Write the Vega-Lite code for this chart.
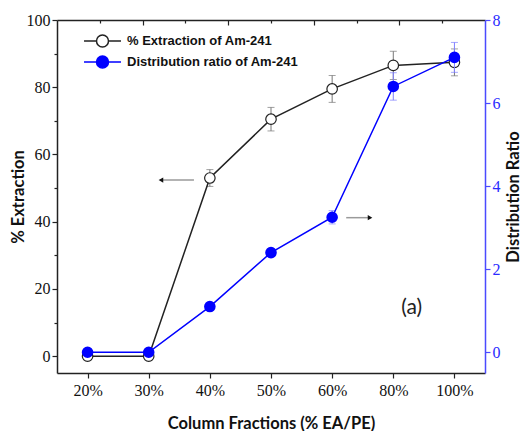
{
  "$schema": "https://vega.github.io/schema/vega-lite/v6.json",
  "width": 428,
  "height": 353,
  "autosize": "none",
  "padding": {"left": 57, "top": 20, "right": 40, "bottom": 58},
  "background": "white",
  "config": {
    "view": {"stroke": null},
    "axis": {
      "grid": false,
      "labelFont": "Liberation Serif",
      "labelFontSize": 16,
      "labelColor": "#111111",
      "titleFont": "Lato",
      "titleFontWeight": "bold",
      "titleFontSize": 16.5,
      "titleColor": "#111111",
      "domainColor": "#222222",
      "tickColor": "#222222",
      "domainWidth": 1.5,
      "tickWidth": 1.2
    }
  },
  "datasets": {
    "main": [
      {"idx": 0, "fraction": "20%", "extraction": 0, "extraction_err": 0, "ratio": 0, "ratio_err": 0},
      {"idx": 1, "fraction": "30%", "extraction": 0, "extraction_err": 0, "ratio": 0, "ratio_err": 0},
      {"idx": 2, "fraction": "40%", "extraction": 53, "extraction_err": 2.5, "ratio": 1.1, "ratio_err": 0.05},
      {"idx": 3, "fraction": "50%", "extraction": 70.5, "extraction_err": 3.5, "ratio": 2.4, "ratio_err": 0.05},
      {"idx": 4, "fraction": "60%", "extraction": 79.5, "extraction_err": 4, "ratio": 3.25, "ratio_err": 0.16},
      {"idx": 5, "fraction": "80%", "extraction": 86.5, "extraction_err": 4.2, "ratio": 6.4, "ratio_err": 0.33},
      {"idx": 6, "fraction": "100%", "extraction": 87.4, "extraction_err": 4, "ratio": 7.1, "ratio_err": 0.36}
    ],
    "arrows": [
      {"from": 1.74, "to": 1.2, "level": 52.4, "dir": "left"},
      {"from": 4.23, "to": 4.62, "level": 41.2, "dir": "right"}
    ],
    "note": [
      {"pos": 5.3, "level": 14.3, "text": "(a)"}
    ]
  },
  "layer": [
    {
      "layer": [
        {
          "data": {"name": "main"},
          "mark": {"type": "errorbar", "color": "#777777", "ticks": {"size": 7, "thickness": 1}, "rule": {"strokeWidth": 1}},
          "encoding": {
            "x": {"field": "idx", "type": "quantitative", "scale": {"domain": [-0.5, 6.5], "nice": false, "zero": false}, "axis": null},
            "y": {"field": "extraction", "type": "quantitative", "scale": {"domain": [-5, 100], "nice": false, "zero": false}, "axis": null},
            "yError": {"field": "extraction_err"}
          }
        },
        {
          "data": {"name": "main"},
          "mark": {"type": "line", "strokeWidth": 1.5},
          "encoding": {
            "x": {
              "field": "idx", "type": "quantitative",
              "axis": {
                "orient": "bottom",
                "values": [0, 1, 2, 3, 4, 5, 6],
                "labelExpr": "['20%','30%','40%','50%','60%','80%','100%'][datum.value]",
                "tickSize": 5,
                "labelPadding": 4,
                "title": "Column Fractions (% EA/PE)",
                "titlePadding": 17
              }
            },
            "y": {
              "field": "extraction", "type": "quantitative",
              "axis": {
                "orient": "left",
                "values": [0, 10, 20, 30, 40, 50, 60, 70, 80, 90, 100],
                "labelExpr": "datum.value % 20 === 0 ? datum.label : ''",
                "tickSize": {"condition": {"test": "datum.value % 20 === 0", "value": 5}, "value": 3},
                "title": "% Extraction",
                "titlePadding": 0
              }
            },
            "stroke": {
              "datum": "% Extraction of Am-241",
              "scale": {"domain": ["% Extraction of Am-241", "Distribution ratio of Am-241"], "range": ["#222222", "#0000ff"]},
              "legend": {
                "title": null,
                "orient": "none",
                "legendX": 33.5,
                "legendY": 9,
                "padding": 0,
                "rowPadding": 0,
                "symbolType": "M-1.68,0H-0.545M0.545,0H1.68M-0.545,0A0.545,0.545,0,1,1,0.545,0A0.545,0.545,0,1,1,-0.545,0Z",
                "symbolSize": 484,
                "symbolStrokeWidth": 1.5,
                "labelFont": "Liberation Sans",
                "labelFontWeight": "bold",
                "labelFontSize": 13,
                "labelColor": "#111111",
                "labelOffset": 12.5,
                "labelLimit": 0,
                "encode": {
                  "symbols": {
                    "update": {
                      "fill": {"signal": "datum.value === '% Extraction of Am-241' ? '#ffffff' : '#0000ff'"},
                      "fillOpacity": {"value": 1},
                      "opacity": {"value": 1}
                    }
                  }
                }
              }
            }
          }
        },
        {
          "data": {"name": "main"},
          "mark": {"type": "point", "shape": "circle", "filled": true, "fill": "#ffffff", "stroke": "#222222", "strokeWidth": 1.2, "size": 110, "opacity": 1},
          "encoding": {
            "x": {"field": "idx", "type": "quantitative", "axis": null},
            "y": {"field": "extraction", "type": "quantitative", "axis": null}
          }
        },
        {
          "data": {"name": "arrows"},
          "mark": {"type": "rule", "color": "#9a9a9a", "strokeWidth": 1.5},
          "encoding": {
            "x": {
              "field": "from", "type": "quantitative",
              "axis": {
                "orient": "top",
                "values": [0.2, 0.9, 1.6, 2.3, 3.0, 3.7, 4.4, 5.1, 5.8],
                "labels": false,
                "title": null,
                "tickSize": {"condition": {"test": "indexof([0.9, 2.3, 3.7, 5.1], datum.value) >= 0", "value": -5}, "value": -3}
              }
            },
            "x2": {"field": "to"},
            "y": {"field": "level", "type": "quantitative", "axis": null}
          }
        },
        {
          "data": {"name": "arrows"},
          "mark": {"type": "point", "filled": true, "color": "#111111", "size": 28, "opacity": 1},
          "encoding": {
            "x": {"field": "to", "type": "quantitative", "axis": null},
            "y": {"field": "level", "type": "quantitative", "axis": null},
            "shape": {"field": "dir", "type": "nominal", "scale": {"domain": ["left", "right"], "range": ["triangle-left", "triangle-right"]}, "legend": null}
          }
        },
        {
          "data": {"name": "note"},
          "mark": {"type": "text", "font": "Lato", "fontSize": 21, "color": "#222222", "align": "center", "baseline": "middle"},
          "encoding": {
            "x": {"field": "pos", "type": "quantitative", "axis": null},
            "y": {"field": "level", "type": "quantitative", "axis": null},
            "text": {"field": "text"}
          }
        }
      ],
      "resolve": {"axis": {"x": "independent", "y": "independent"}}
    },
    {
      "layer": [
        {
          "data": {"name": "main"},
          "mark": {"type": "errorbar", "color": "#7f7fff", "ticks": {"size": 7, "thickness": 1}, "rule": {"strokeWidth": 1}},
          "encoding": {
            "x": {"field": "idx", "type": "quantitative", "axis": null},
            "y": {"field": "ratio", "type": "quantitative", "scale": {"domain": [-0.5, 8], "nice": false, "zero": false}, "axis": null},
            "yError": {"field": "ratio_err"}
          }
        },
        {
          "data": {"name": "main"},
          "mark": {"type": "line", "strokeWidth": 1.5},
          "encoding": {
            "x": {"field": "idx", "type": "quantitative", "axis": null},
            "y": {
              "field": "ratio", "type": "quantitative",
              "axis": {
                "orient": "right",
                "values": [0, 2, 4, 6, 8],
                "tickSize": 5,
                "labelColor": "#2a2aff",
                "domainColor": "#4a4aff",
                "tickColor": "#4a4aff",
                "title": "Distribution Ratio",
                "titleAngle": 270,
                "titlePadding": 21
              }
            },
            "stroke": {"datum": "Distribution ratio of Am-241"}
          }
        },
        {
          "data": {"name": "main"},
          "mark": {"type": "point", "shape": "circle", "filled": true, "color": "#0000ff", "size": 135, "opacity": 1},
          "encoding": {
            "x": {"field": "idx", "type": "quantitative", "axis": null},
            "y": {"field": "ratio", "type": "quantitative", "axis": null}
          }
        }
      ],
      "resolve": {"axis": {"x": "independent", "y": "independent"}}
    }
  ],
  "resolve": {"scale": {"y": "independent"}, "axis": {"x": "independent", "y": "independent"}}
}
